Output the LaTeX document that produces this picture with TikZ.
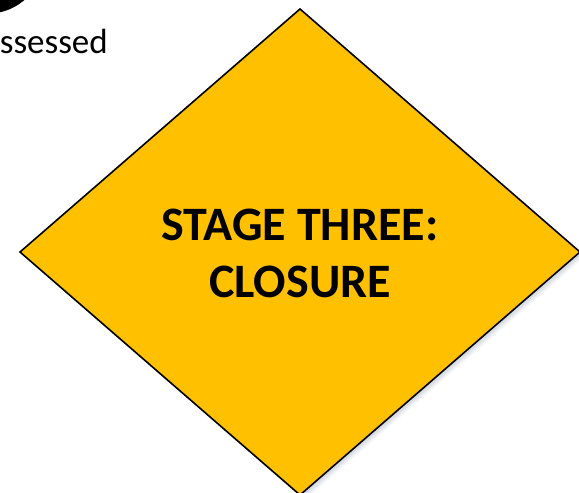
\documentclass[tikz,border=0pt]{standalone}
\usepackage{fontspec}
\setmainfont{Carlito}
\definecolor{stagefill}{HTML}{FFC000}
\definecolor{shadowc}{HTML}{9AA6B8}
\begin{document}
\begin{tikzpicture}[x=1pt,y=-1pt,
  diamondedge/.style={draw=black,line width=1.6pt,line join=miter,fill=stagefill},
  stagetext/.style={font=\fontsize{48}{57}\selectfont\bfseries,align=center,text=black}]
\useasboundingbox (0,0) rectangle (579,493);
\coordinate (T) at (300,9);
\coordinate (L) at (20,252);
\coordinate (B) at (300,495);
\coordinate (R) at (580,252);
% soft shadow
\foreach \o/\a in {5/0.08,4/0.1,3/0.12,2/0.15}{
  \fill[shadowc,opacity=\a] ([shift={(\o,\o)}]T) -- ([shift={(\o,\o)}]L) -- ([shift={(\o,\o)}]B) -- ([shift={(\o,\o)}]R) -- cycle;
}
\path[diamondedge] (T) -- (L) -- (B) -- (R) -- cycle;
\node[stagetext,anchor=base] (stage) at (300,297) {STAGE THREE:\\CLOSURE};
% black circle partly visible
\fill[black] (-12,-42) circle (55.6);
\node[anchor=base east,font=\fontsize{35}{40}\selectfont,inner sep=0pt] (assessed) at (108,53) {ssessed};
\end{tikzpicture}
\end{document}
